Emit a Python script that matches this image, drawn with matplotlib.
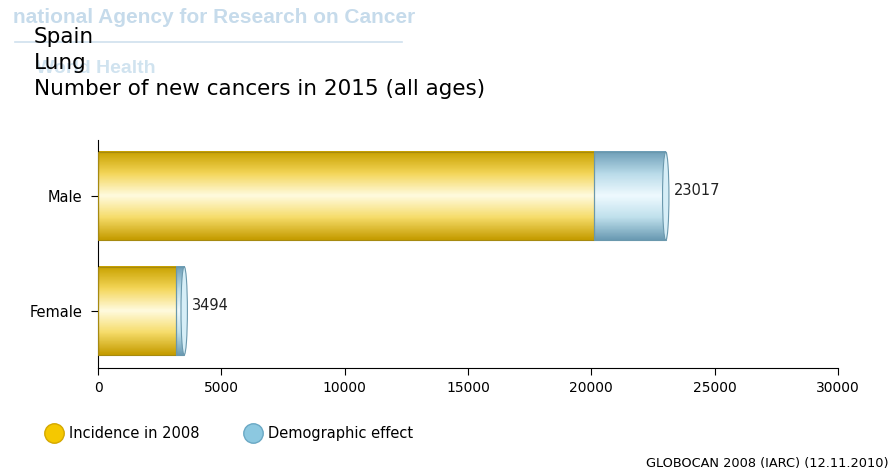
import numpy as np
import matplotlib
matplotlib.use('Agg')
import matplotlib.pyplot as plt
from matplotlib.patches import Ellipse, Rectangle
from matplotlib.lines import Line2D
from matplotlib.colors import LinearSegmentedColormap

# Data
categories = ['Female', 'Male']
incidence_2008 = [3160, 20100]
total_2015 = [3494, 23017]
xticks = [0, 5000, 10000, 15000, 20000, 25000, 30000]

bar_h = 0.77

gold = LinearSegmentedColormap.from_list('gold', ['#c9a200', '#f4d65a', '#fffbe0', '#f6dc6a', '#c59c00'])
blue = LinearSegmentedColormap.from_list('blue', ['#6f9fb8', '#b9dbe9', '#effaff', '#bfe0ec', '#6b9bb3'])
grad = np.linspace(0, 1, 64).reshape(-1, 1)

fig = plt.figure(figsize=(8.91, 4.72), dpi=100)
ax = fig.add_axes([0.110, 0.2203, 0.8305, 0.483])

for i, cat in enumerate(categories):
    inc = incidence_2008[i]
    tot = total_2015[i]
    y0, y1 = i - bar_h / 2, i + bar_h / 2
    ax.imshow(grad, cmap=gold, extent=[0, inc, y0, y1], aspect='auto', zorder=2)
    ax.imshow(grad, cmap=blue, extent=[inc, tot, y0, y1], aspect='auto', zorder=2)
    ax.add_patch(Rectangle((0, y0), inc, bar_h, fill=False, ec='#a68a10', lw=0.8, zorder=3))
    ax.add_patch(Rectangle((inc, y0), tot - inc, bar_h, fill=False, ec='#6a98ad', lw=0.8, zorder=3))
    ax.add_patch(Ellipse((tot, i), 260, bar_h, fc='#d6eef7', ec='#6a98ad', lw=0.8, zorder=4))
    ax.text(tot + 330, i + 0.05, str(tot), fontsize=10.5, va='center', ha='left', color='#222222')

ax.set_xlim(0, 30000)
ax.set_ylim(-0.5, 1.49)
ax.set_xticks(xticks)
ax.set_xticklabels([str(v) for v in xticks], fontsize=10)
ax.set_yticks(range(len(categories)))
ax.set_yticklabels(categories, fontsize=10.5)
ax.spines['top'].set_visible(False)
ax.spines['right'].set_visible(False)
ax.tick_params(axis='both', length=5, width=0.8, pad=6)
ax.tick_params(axis='x', pad=4)

# faint watermark
wm_font = ['Liberation Sans Narrow', 'Liberation Sans', 'DejaVu Sans']
fig.text(0.015, 0.962, 'national Agency for Research on Cancer', fontsize=15, color='#b8d2e6',
         fontweight='bold', family=wm_font, ha='left', va='center', alpha=0.8)
fig.add_artist(Line2D([0.017, 0.451], [0.912, 0.912], transform=fig.transFigure,
                      color='#cfe0ee', lw=1.2, zorder=0))
fig.text(0.04, 0.855, 'World Health', fontsize=14, color='#c5dcec', fontweight='bold',
         family=wm_font, ha='left', va='center', alpha=0.8)

# titles
fig.text(0.038, 0.922, 'Spain', fontsize=15.5, ha='left', va='center')
fig.text(0.038, 0.867, 'Lung', fontsize=15.5, ha='left', va='center')
fig.text(0.038, 0.811, 'Number of new cancers in 2015 (all ages)', fontsize=15.5, ha='left', va='center')

handles = [Line2D([], [], marker='o', ls='none', ms=14, mfc='#f5c800', mec='#d4a800'),
           Line2D([], [], marker='o', ls='none', ms=14, mfc='#8cc8e0', mec='#6aa8c4')]
fig.legend(handles, ['Incidence in 2008', 'Demographic effect'], loc='center left',
           bbox_to_anchor=(0.038, 0.081), ncol=2, frameon=False, fontsize=10.5,
           handletextpad=0.5, columnspacing=3.2, handlelength=1.0)

fig.text(0.997, 0.018, 'GLOBOCAN 2008 (IARC) (12.11.2010)', fontsize=9.3, ha='right', va='center')

plt.savefig('out.png', dpi=100)
